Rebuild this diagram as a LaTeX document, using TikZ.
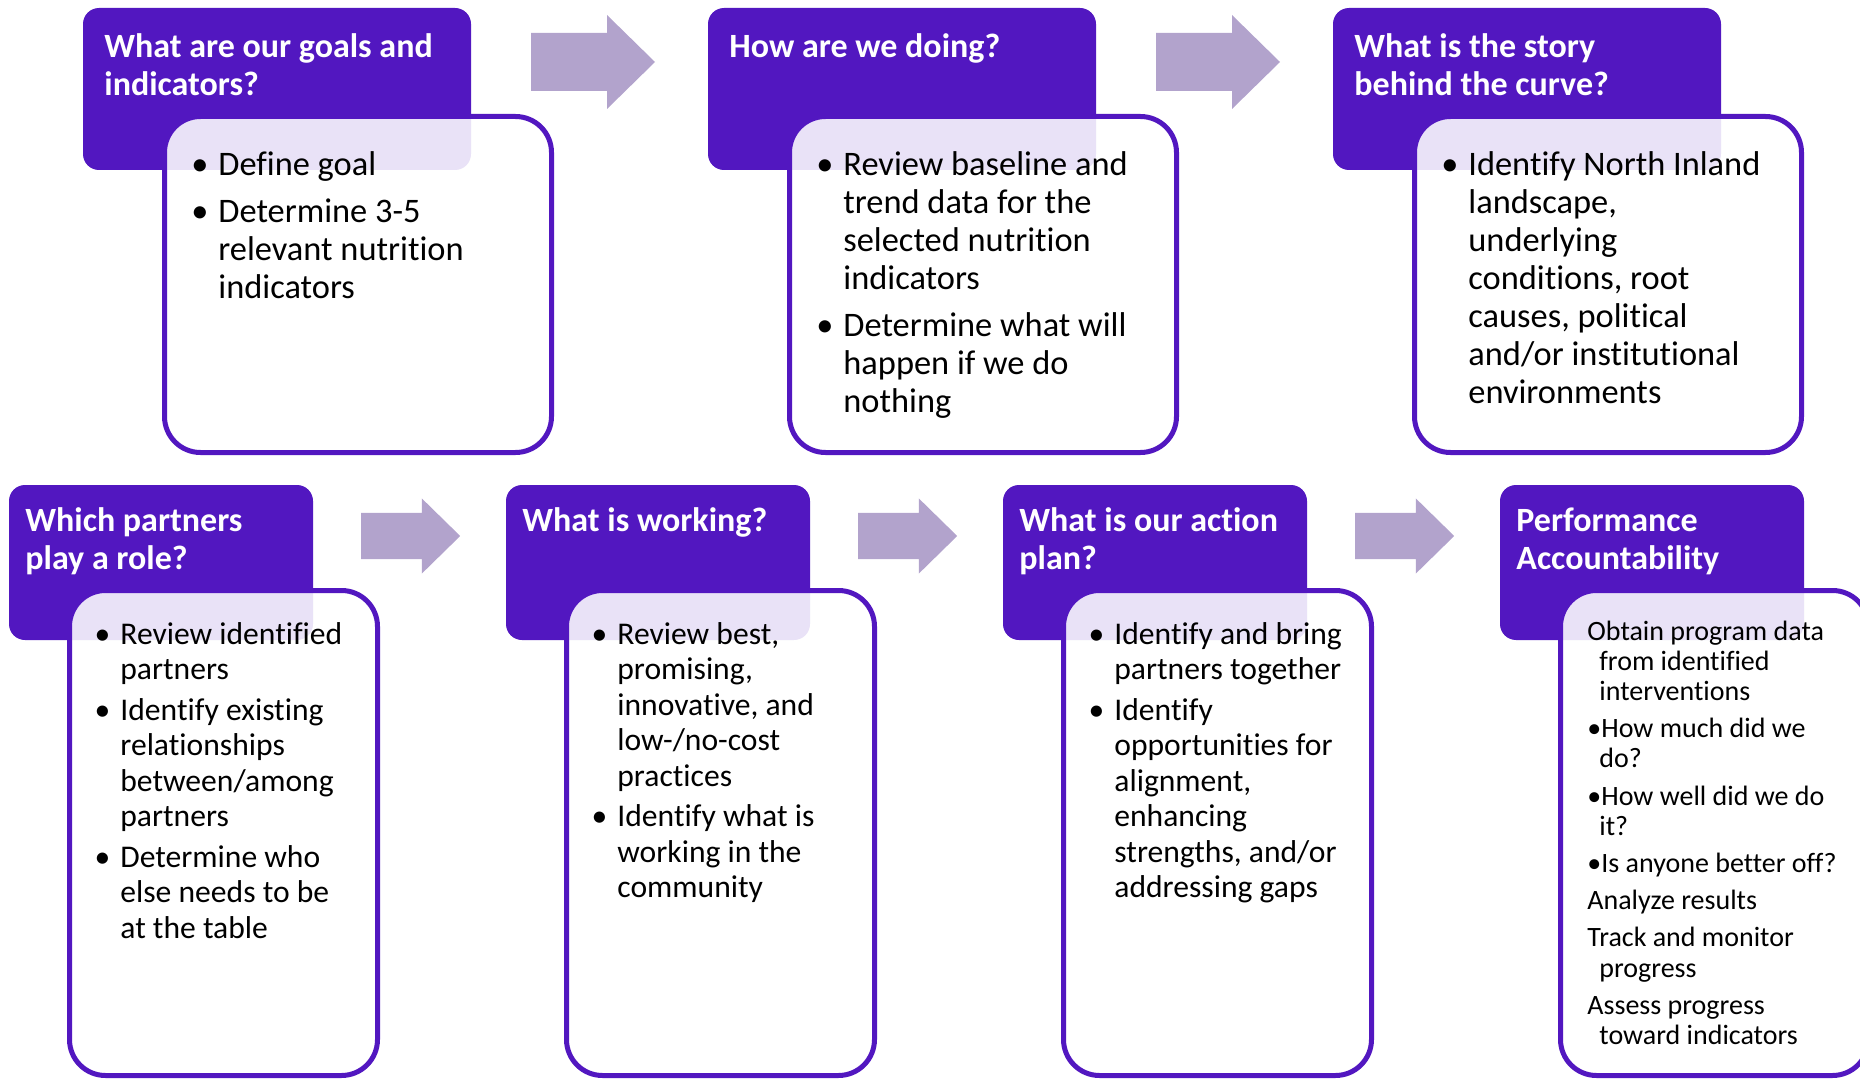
\documentclass[tikz,border=0pt]{standalone}
\usepackage{fontspec}
\setmainfont{Carlito}[Ligatures=NoCommon]
\usetikzlibrary{fit}

\definecolor{hdrpurple}{RGB}{82,23,192}
\definecolor{arrowlav}{RGB}{178,163,204}

\newcommand\hdrfont{\fontsize{17}{19}\selectfont\bfseries\color{white}}
\newcommand\topfont{\fontsize{17.2}{19}\selectfont}
\newcommand\botfont{\fontsize{15.8}{17.75}\selectfont}
\newcommand\pafont{\fontsize{14}{15.1}\selectfont}
% bullet hanging to the left of the item text
\newcommand\bul{\llap{\textbullet\hspace{5pt}}}

\begin{document}
\begin{tikzpicture}[x=0.5pt,y=-0.5pt,
  hdr/.style={fill=hdrpurple, draw=none, rounded corners=8pt, inner sep=0pt},
  card/.style={draw=hdrpurple, line width=2.5pt, fill=white, fill opacity=0.88,
               rounded corners=18pt, inner sep=0pt},
  hdrtext/.style={anchor=base west, inner sep=0pt, font=\hdrfont},
  toptext/.style={anchor=base west, inner sep=0pt, font=\topfont},
  bottext/.style={anchor=base west, inner sep=0pt, font=\botfont},
  patext/.style={anchor=base west, inner sep=0pt, font=\pafont},
  blockarrow/.pic={\fill[arrowlav] (0,-29) -- (76,-29) -- (76,-47) -- (124,0)
                   -- (76,47) -- (76,29) -- (0,29) -- cycle;}]
\useasboundingbox (0,0) rectangle (1860,1081);

% ---------- header panels ----------
\node[hdr, fit={(83,8) (471,170)}] (h1) {};
\node[hdr, fit={(708,8) (1096,170)}] (h2) {};
\node[hdr, fit={(1333,8) (1721,170)}] (h3) {};
\node[hdr, fit={(9,485) (313,640)}] (h4) {};
\node[hdr, fit={(506,485) (810,640)}] (h5) {};
\node[hdr, fit={(1003,485) (1307,640)}] (h6) {};
\node[hdr, fit={(1500,485) (1804,640)}] (h7) {};

% ---------- content cards ----------
\node[card, fit={(164.5,116.5) (551.5,452.5)}] (c1) {};
\node[card, fit={(789.5,116.5) (1176.5,452.5)}] (c2) {};
\node[card, fit={(1414.5,116.5) (1801.5,452.5)}] (c3) {};
\node[card, fit={(69.5,590.5) (377.5,1075.5)}] (c4) {};
\node[card, fit={(566.5,590.5) (874.5,1075.5)}] (c5) {};
\node[card, fit={(1063.5,590.5) (1371.5,1075.5)}] (c6) {};
\node[card, fit={(1560.5,590.5) (1868.5,1075.5)}] (c7) {};

% ---------- block arrows ----------
\pic at (531,62) {blockarrow};
\pic at (1156,62) {blockarrow};
\pic[scale=0.8] at (361,536) {blockarrow};
\pic[scale=0.8] at (858,536) {blockarrow};
\pic[scale=0.8] at (1355,536) {blockarrow};

% ---------- header titles ----------
\node[hdrtext] (ht1) at (104,58) {\begin{tabular}[t]{@{}l@{}}What are our goals and\\indicators?\end{tabular}};
\node[hdrtext] (ht2) at (729,58) {\begin{tabular}[t]{@{}l@{}}How are we doing?\end{tabular}};
\node[hdrtext] (ht3) at (1354,58) {\begin{tabular}[t]{@{}l@{}}What is the story\\behind the curve?\end{tabular}};
\node[hdrtext] (ht4) at (25,531) {\begin{tabular}[t]{@{}l@{}}Which partners\\play a role?\end{tabular}};
\node[hdrtext] (ht5) at (522,531) {\begin{tabular}[t]{@{}l@{}}What is working?\end{tabular}};
\node[hdrtext] (ht6) at (1019,531) {\begin{tabular}[t]{@{}l@{}}What is our action\\plan?\end{tabular}};
\node[hdrtext] (ht7) at (1516,531) {\begin{tabular}[t]{@{}l@{}}Performance\\Accountability\end{tabular}};

% ---------- card contents ----------
\node[toptext] (t1) at (218,175.5) {\begin{tabular}[t]{@{}l@{}}
  \bul Define goal\\[4.5pt]
  \bul Determine 3-5\\
  relevant nutrition\\
  indicators\end{tabular}};
\node[toptext] (t2) at (843,175.5) {\begin{tabular}[t]{@{}l@{}}
  \bul Review baseline and\\
  trend data for the\\
  selected nutrition\\
  indicators\\[4.5pt]
  \bul Determine what will\\
  happen if we do\\
  nothing\end{tabular}};
\node[toptext] (t3) at (1468,175.5) {\begin{tabular}[t]{@{}l@{}}
  \bul Identify North Inland\\
  landscape,\\
  underlying\\
  conditions, root\\
  causes, political\\
  and/or institutional\\
  environments\end{tabular}};
\node[bottext] (t4) at (120,644) {\begin{tabular}[t]{@{}l@{}}
  \bul Review identified\\
  partners\\[2.5pt]
  \bul Identify existing\\
  relationships\\
  between/among\\
  partners\\[2.5pt]
  \bul Determine who\\
  else needs to be\\
  at the table\end{tabular}};
\node[bottext] (t5) at (617,644) {\begin{tabular}[t]{@{}l@{}}
  \bul Review best,\\
  promising,\\
  innovative, and\\
  low-/no-cost\\
  practices\\[2.5pt]
  \bul Identify what is\\
  working in the\\
  community\end{tabular}};
\node[bottext] (t6) at (1114,644) {\begin{tabular}[t]{@{}l@{}}
  \bul Identify and bring\\
  partners together\\[2.5pt]
  \bul Identify\\
  opportunities for\\
  alignment,\\
  enhancing\\
  strengths, and/or\\
  addressing gaps\end{tabular}};
\node[patext] (t7) at (1587,640) {\begin{tabular}[t]{@{}l@{}}
  Obtain program data\\
  \hspace{6pt}from identified\\
  \hspace{6pt}interventions\\[3.5pt]
  \textbullet How much did we\\
  \hspace{6pt}do?\\[3.5pt]
  \textbullet How well did we do\\
  \hspace{6pt}it?\\[3.5pt]
  \textbullet Is anyone better off?\\[3.5pt]
  Analyze results\\[3.5pt]
  Track and monitor\\
  \hspace{6pt}progress\\[3.5pt]
  Assess progress\\
  \hspace{6pt}toward indicators\end{tabular}};
\end{tikzpicture}
\end{document}
